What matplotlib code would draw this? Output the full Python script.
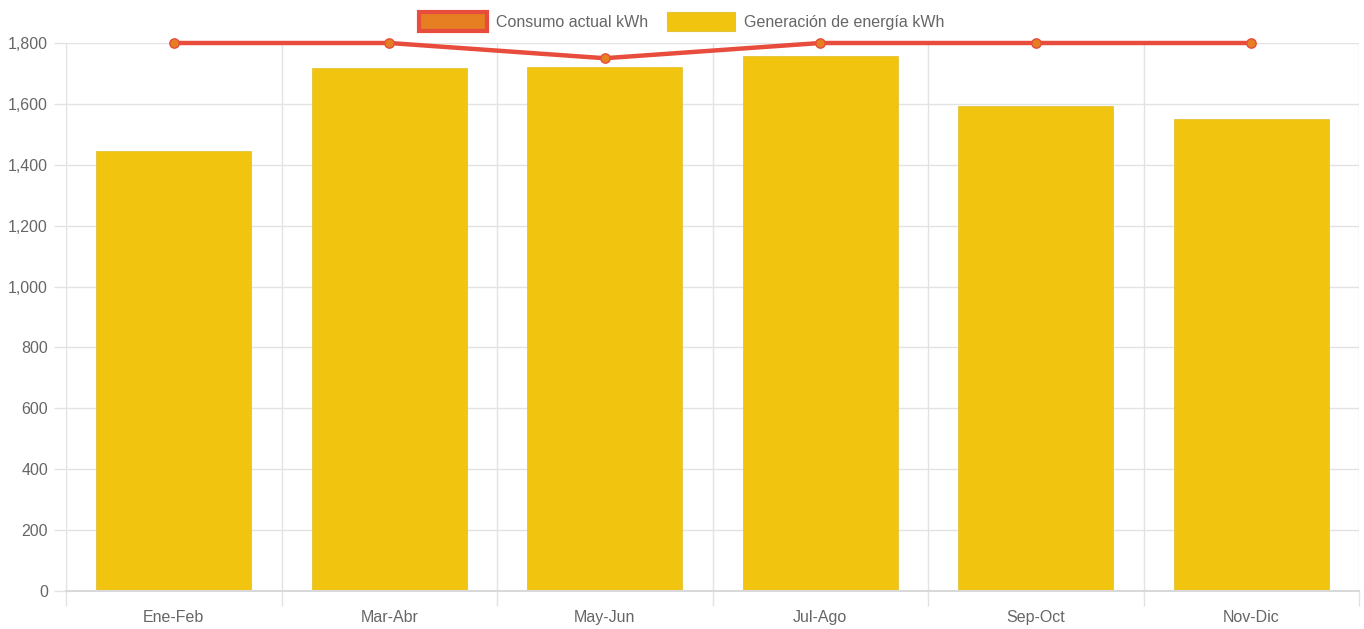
import matplotlib.pyplot as plt
import numpy as np
from matplotlib.patches import Patch
from matplotlib.ticker import FuncFormatter, MultipleLocator, FixedLocator

plt.rcParams['font.family'] = ['Liberation Sans', 'DejaVu Sans']

periodos = ["Ene-Feb", "Mar-Abr", "May-Jun", "Jul-Ago", "Sep-Oct", "Nov-Dic"]
generacion = [1445, 1718, 1721, 1757, 1593, 1550]
consumo = [1800, 1800, 1750, 1800, 1800, 1800]

grid_col = "#e3e3e3"
text_col = "#666666"

fig = plt.figure(figsize=(13.64, 6.29), dpi=100)
ax = fig.add_axes([66 / 1364, 38 / 629, 1293 / 1364, 548 / 629])

x = np.arange(len(periodos))
ax.bar(x, generacion, width=0.72, color="#f1c40f", edgecolor="#e5c33a",
       linewidth=0.6, zorder=2)
ax.plot(x, consumo, color="#e74c3c", linewidth=3.2, zorder=3, clip_on=False)
ax.scatter(x, consumo, s=45, color="#e67e22", edgecolor="#e74c3c",
           linewidth=1, zorder=4, clip_on=False)

ax.set_xlim(-0.5, len(periodos) - 0.5)
ax.set_ylim(0, 1800)
ax.yaxis.set_major_locator(MultipleLocator(200))
ax.yaxis.set_major_formatter(FuncFormatter(lambda v, p: f"{int(v):,}"))
ax.grid(axis="y", color=grid_col, linewidth=1, zorder=0)

ax.set_xticks(x)
ax.set_xticklabels(periodos)
ax.xaxis.set_minor_locator(FixedLocator(np.arange(-0.5, len(periodos), 1.0)))
ax.grid(axis="x", which="minor", color=grid_col, linewidth=1, zorder=0)
ax.tick_params(axis="x", which="major", length=0, pad=14, labelsize=11.5,
               labelcolor=text_col)
ax.tick_params(axis="x", which="minor", length=11, color=grid_col, width=1)
ax.tick_params(axis="y", length=9, color=grid_col, width=1, pad=4,
               labelsize=11.5, labelcolor=text_col)

for s in ["top", "right"]:
    ax.spines[s].set_visible(False)
ax.spines["left"].set_color(grid_col)
ax.spines["bottom"].set_color("#d9d9d9")
ax.spines["bottom"].set_linewidth(1.5)

handles = [
    Patch(facecolor="#e67e22", edgecolor="#e74c3c", linewidth=3,
          label="Consumo actual kWh"),
    Patch(facecolor="#f1c40f", edgecolor="#e5c33a", linewidth=0.8,
          label="Generación de energía kWh"),
]
fig.legend(handles=handles, loc="upper center", bbox_to_anchor=(0.5, 1.0),
           ncol=2, frameon=False, fontsize=11.5, labelcolor=text_col,
           handlelength=4.2, handleheight=1.45, columnspacing=1.2,
           handletextpad=0.6, borderaxespad=0.35)

fig.savefig("out.png", dpi=100)
